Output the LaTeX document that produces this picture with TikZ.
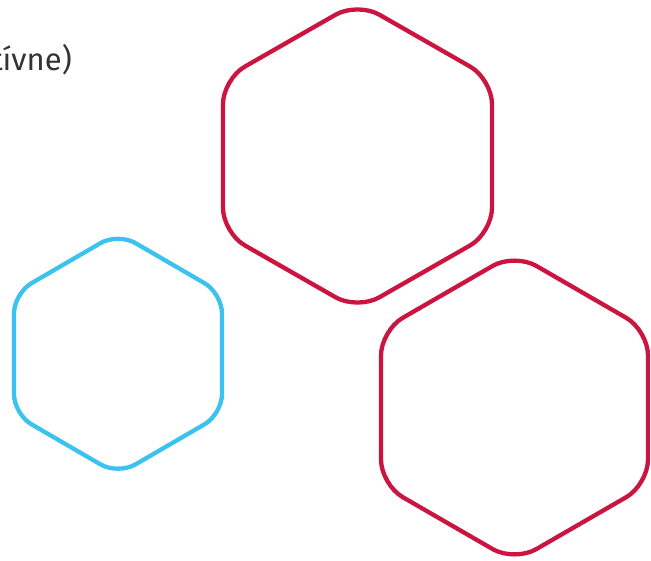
\documentclass[tikz,border=0pt]{standalone}
\usepackage{fontspec}
\setmainfont{Fira Sans}
\definecolor{hexred}{RGB}{204,20,64}
\definecolor{hexblue}{RGB}{59,194,238}
\definecolor{txtgray}{RGB}{51,51,51}
\tikzset{
  hexline/.style={line width=4.3pt, rounded corners=#1},
  hexline/.default=25pt,
}
\newcommand{\hexpath}[5]{% cx, cy, halfwidth, halfheight(vertex), style
  \draw[#5] (#1,#2-#4) -- (#1+#3,#2-#4/2) -- (#1+#3,#2+#4/2) -- (#1,#2+#4)
     -- (#1-#3,#2+#4/2) -- (#1-#3,#2-#4/2) -- cycle;
}
\begin{document}
\begin{tikzpicture}[x=1pt,y=-1pt]
\useasboundingbox (0,0) rectangle (651,560);
\clip (0,0) rectangle (651,560);
\node[anchor=base east, inner sep=0pt, text=txtgray, font=\fontsize{31}{33}\selectfont] (label) at (72,70.5) {tívne)};
\hexpath{357.5}{156}{134.5}{153.8}{hexline=25pt, draw=hexred}
\hexpath{514.5}{407.5}{133.5}{154.2}{hexline=25pt, draw=hexred}
\hexpath{118}{353.75}{104}{120.8}{hexline=20pt, draw=hexblue}
\end{tikzpicture}
\end{document}
